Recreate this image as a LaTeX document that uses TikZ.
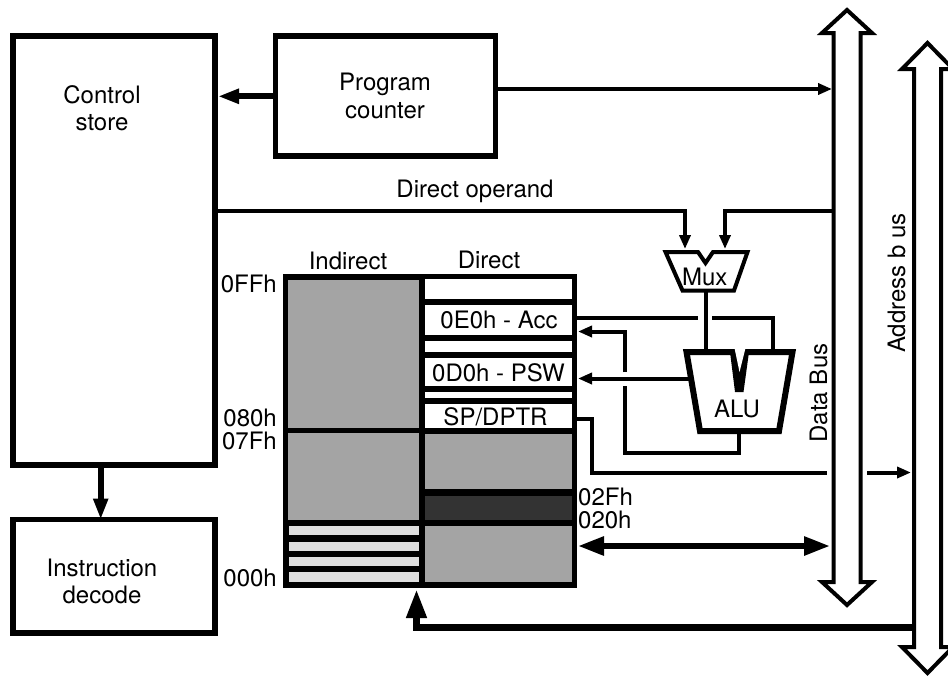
\documentclass[tikz,border=0pt]{standalone}
\usepackage{fontspec}
\setmainfont{TeX Gyre Heros}
\usetikzlibrary{arrows.meta,calc}
\definecolor{midgray}{HTML}{A4A4A4}
\definecolor{darkcell}{HTML}{333333}
\definecolor{lightcell}{HTML}{DEDEDE}
\newcommand{\memcell}[6]{%
  \pgfmathsetmacro{\cx}{(#2+#4)/2}\pgfmathsetmacro{\cy}{(#3+#5)/2}%
  \pgfmathsetmacro{\cw}{#4-#2}\pgfmathsetmacro{\ch}{#5-#3}%
  \node[cellbox,fill=#6,minimum width=\cw pt,minimum height=\ch pt] (#1) at (\cx,\cy) {};}
\tikzset{
  lbl/.style={anchor=base,inner sep=0pt,font=\fontsize{24}{28}\selectfont},
  mainbox/.style={draw,line width=5.7pt,inner sep=0pt,outer sep=0pt,fill=white},
  cellbox/.style={inner sep=0pt,outer sep=0pt,draw=none},
  bus/.style={draw,line width=4pt,fill=white,line join=miter,miter limit=10},
  wire/.style={line width=4pt,line join=miter},
  heavy/.style={line width=5.7pt},
  smalltip/.style={-{Triangle[length=14pt,width=11pt]}},
  bigtip/.style={-{Triangle[length=21pt,width=14pt]}},
}
\begin{document}
\begin{tikzpicture}[x=1pt,y=-1pt]
\useasboundingbox (0,0) rectangle (948,675);
\clip (0,0) rectangle (948,675);
\fill[white] (0,0) rectangle (948,675);
% main boxes
\node[mainbox,minimum width=202pt,minimum height=429pt] (cs) at (114,250.5) {};
\node[mainbox,minimum width=220pt,minimum height=120pt] (pc) at (385.5,96) {};
\node[mainbox,minimum width=202pt,minimum height=113.5pt] (dec) at (114,576.25) {};
\node[lbl] at (102,103) {Control};
\node[lbl] at (102,130.5) {store};
\node[lbl] at (385,90) {Program};
\node[lbl] at (385,118) {counter};
\node[lbl] at (102,576) {Instruction};
\node[lbl] at (102,603) {decode};
% buses
\path[bus] (847,10) -- (872,33) -- (860.5,33) -- (860.5,582) -- (872,582) -- (847,605) -- (822,582) -- (833.5,582) -- (833.5,33) -- (822,33) -- cycle;
\coordinate (dbA) at (832,89);
\coordinate (dbB) at (833,211);
\coordinate (dbD) at (830,546);
\path[bus] (927.5,43) -- (953,69) -- (941,69) -- (941,647) -- (953,647) -- (927.5,673) -- (902,647) -- (914,647) -- (914,69) -- (902,69) -- cycle;
\coordinate (abA) at (911,472.5);
\coordinate (abB) at (914,627);
% memory block
\node[draw=none,fill=black,inner sep=0pt,outer sep=0pt,minimum width=294pt,minimum height=314pt] (mem) at (430,431) {};
\memcell{ia}{288}{280}{419}{428}{midgray}
\memcell{ib}{288}{433}{419}{520}{midgray}
\memcell{sa}{289}{526}{419}{535}{lightcell}
\memcell{sb}{289}{542}{419}{551}{lightcell}
\memcell{sc}{289}{557}{419}{566}{lightcell}
\memcell{sd}{289}{572}{419}{582}{lightcell}
\memcell{da}{424.5}{279}{571.5}{299}{white}
\memcell{acc}{424.5}{305}{571.5}{335}{white}
\memcell{db}{424.5}{341}{571.5}{352}{white}
\memcell{psw}{424.5}{358}{571.5}{386}{white}
\memcell{dc}{424.5}{392}{571.5}{398}{white}
\memcell{sp}{424.5}{404}{571.5}{428}{white}
\memcell{dd}{424.5}{434}{571.5}{489}{midgray}
\memcell{de}{424.5}{496}{571.5}{520}{darkcell}
\memcell{df}{424.5}{526}{571.5}{582}{midgray}
\node[lbl] at (499,328) {0E0h - Acc};
\node[lbl] at (498.5,381) {0D0h - PSW};
\node[lbl] at (495.5,425) {SP/DPTR};
\node[lbl] at (348,269) {Indirect};
\node[lbl] at (489,268) {Direct};
\node[lbl,anchor=base east] at (277,292) {0FFh};
\node[lbl,anchor=base east] at (277,426) {080h};
\node[lbl,anchor=base east] at (277,449) {07Fh};
\node[lbl,anchor=base east] at (277,586) {000h};
\node[lbl,anchor=base west] at (578,505) {02Fh};
\node[lbl,anchor=base west] at (578,528) {020h};
\node[lbl] at (475,197) {Direct operand};
% coordinates on shapes
\coordinate (muxL) at (685,249);
\coordinate (muxR) at (725,249);
\coordinate (muxB) at (705.5,290);
\coordinate (aluA) at (705.5,351);
\coordinate (aluB) at (773,351);
\coordinate (aluC) at (739,433);
\coordinate (aluD) at (690,378.5);
\coordinate (csTop) at (218,96.3);
\coordinate (csOp) at (216,211);
% ALU and mux
\draw[line width=6pt,fill=white,line join=miter] (686.5,352) -- (792.5,352) -- (779,431) -- (700,431) -- cycle;
\fill (730,352) -- (749,352) -- (743.5,392) -- (735,392) -- cycle;
\fill[white] (734.5,348) -- (745.5,348) -- (739.5,372) -- cycle;
\node[lbl] (alu) at (737,417.5) {ALU};
\draw[line width=4pt,fill=white,line join=miter] (665.5,252) -- (698,252) -- (705.5,263) -- (713,252) -- (747.5,252) -- (734,290.5) -- (682.5,290.5) -- cycle;
\node[lbl] (mux) at (704.7,285) {Mux};
% connectors
\draw[heavy,bigtip] (pc.west |- csTop) -- (csTop);
\draw[wire,smalltip] (pc.east |- dbA) -- (dbA);
\draw[wire,smalltip] (csOp) -| (muxL);
\draw[wire,smalltip] (dbB) -| (muxR);
\draw[heavy,bigtip] (cs.south -| 100.7,0) -- (dec.north -| 100.7,0);
\draw[wire] (muxB) -- (aluA);
\draw[wire] (577,318) -- (698,318);
\draw[wire] (712,318) -| (aluB);
\draw[wire] (aluC) |- (624.5,453) -- (624.5,386);
\draw[wire,smalltip] (624.5,372) |- (578,331.5);
\draw[wire,smalltip] (aluD) -- (578,378.5);
\draw[wire] (575,419) -| (592,472.5) -- (827,472.5);
\draw[wire,smalltip] (867,472.5) -- (abA);
\draw[line width=5.7pt,{Triangle[length=26pt,width=18pt]}-{Triangle[length=26pt,width=18pt]}] (578,546) -- (dbD);
\draw[line width=7pt,-{Triangle[length=29pt,width=19pt]},line join=miter] (abB) -| (416.5,589);
% bus labels
\node[lbl,rotate=90] at (827,393) {Data Bus};
\node[lbl,rotate=90] at (905,283) {Address b us};
\end{tikzpicture}
\end{document}
